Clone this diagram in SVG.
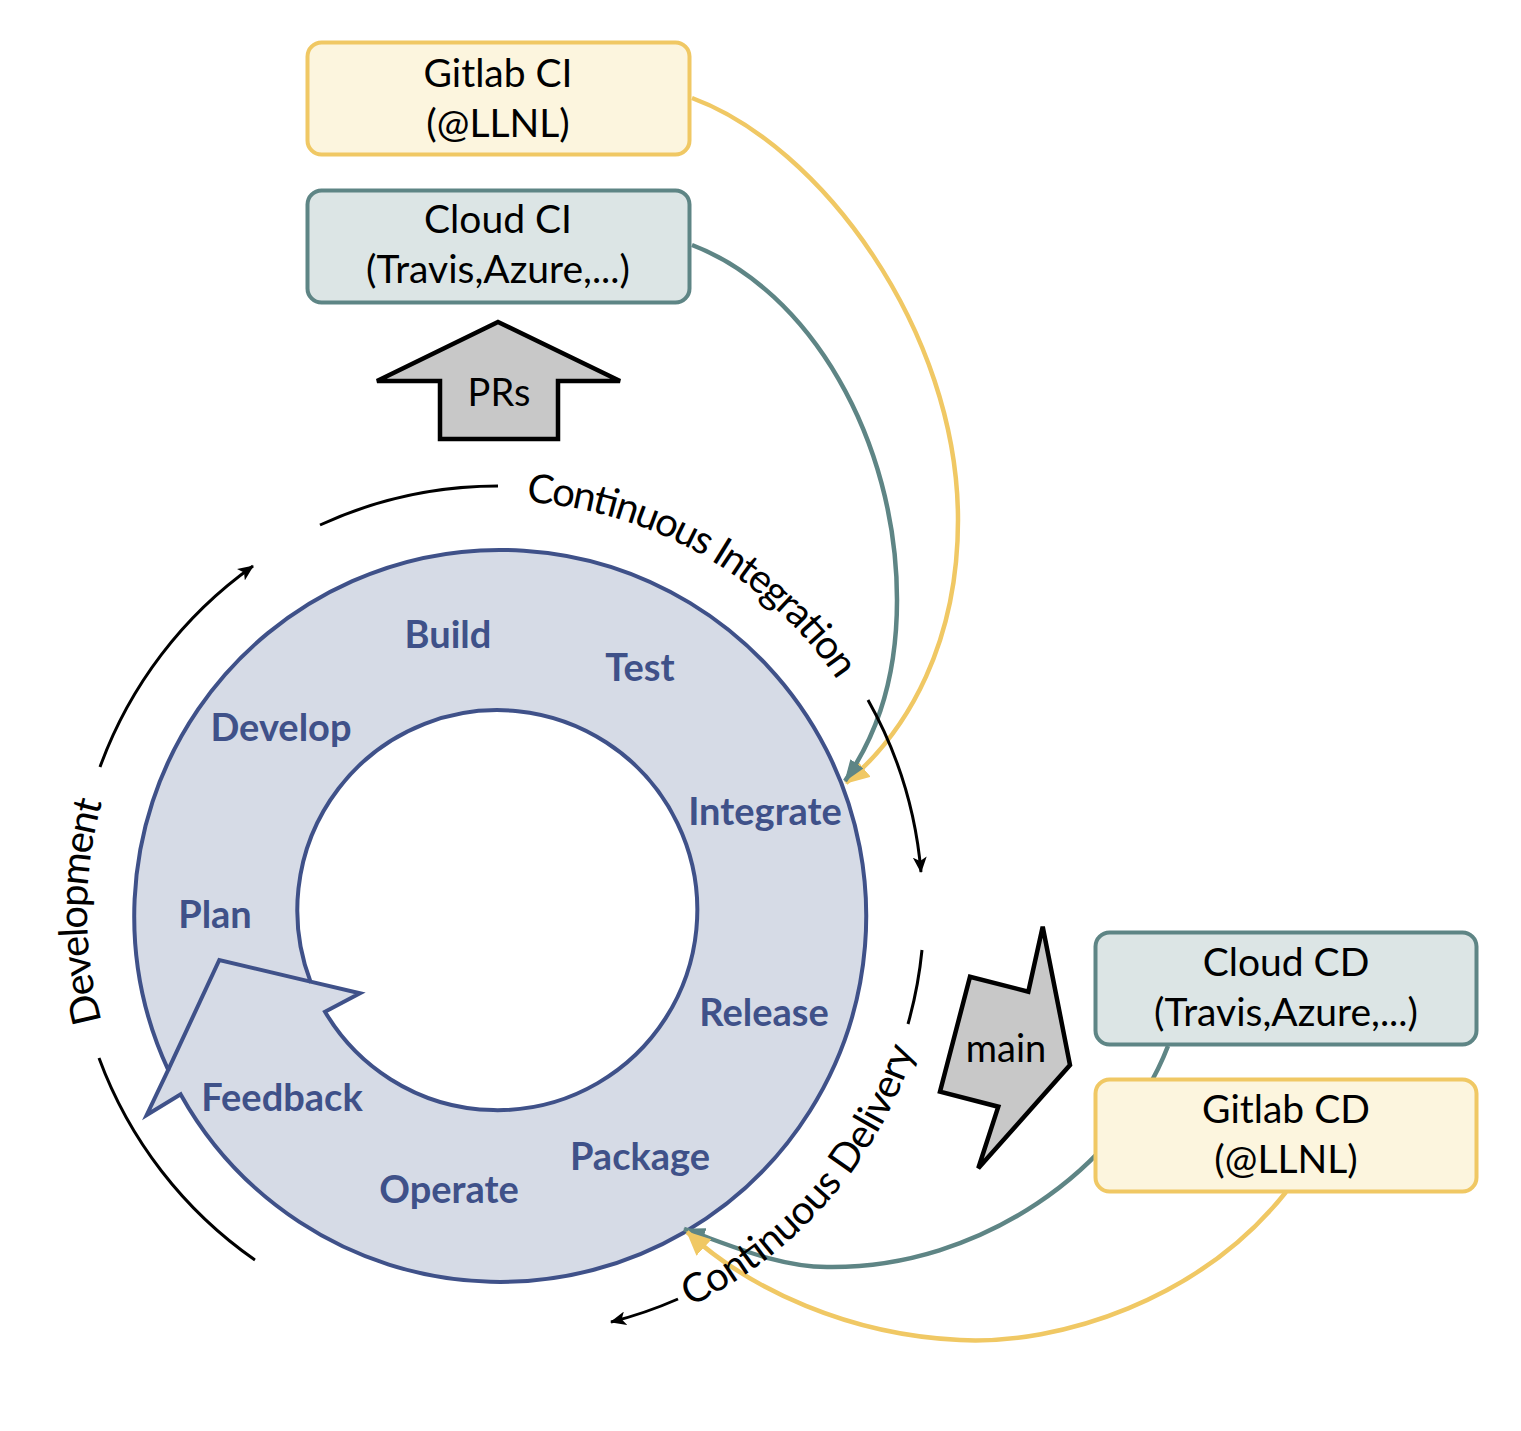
<svg xmlns="http://www.w3.org/2000/svg" width="1521" height="1431" viewBox="0 0 1521 1431">
<defs>
<style>
.ring-lbl{font-family:Lato,"Open Sans",sans-serif;font-weight:700;font-size:38px;fill:#3f5189;text-anchor:middle}
.box-lbl{font-family:Lato,"Open Sans",sans-serif;font-size:39px;fill:#000;text-anchor:middle}
.arw-lbl{font-family:Lato,"Open Sans",sans-serif;font-size:38px;fill:#000;text-anchor:middle}
.arc-lbl{font-family:Lato,"Open Sans",sans-serif;font-size:40px;fill:#000}
.box-y{fill:#fcf5de;stroke:#f0c864;stroke-width:4}
.box-t{fill:#dce5e5;stroke:#5e8585;stroke-width:4}
.garrow{fill:#c8c8c8;stroke:#000;stroke-width:4.5;stroke-linejoin:miter}
.flow{fill:none;stroke:#000;stroke-width:3}
.c-y{fill:none;stroke:#f0c864;stroke-width:4.5}
.c-t{fill:none;stroke:#5e8585;stroke-width:4.5}
.ring-fill{fill:#d6dbe6;fill-rule:evenodd;stroke:#3f5189;stroke-width:4;stroke-linejoin:miter}
.ring-line{fill:none;stroke:#3f5189;stroke-width:4}
</style>
<marker id="mk-black" markerUnits="userSpaceOnUse" viewBox="0 0 16 14" markerWidth="16" markerHeight="14" refX="15" refY="7" orient="auto"><path d="M0,0 L16,7 L0,14 L4,7 z" fill="#000"/></marker>
<marker id="mk-yellow" markerUnits="userSpaceOnUse" viewBox="0 0 24 22" markerWidth="24" markerHeight="22" refX="23" refY="11" orient="auto"><path d="M0,0 L24,11 L0,22 z" fill="#f0c864"/></marker>
<marker id="mk-teal" markerUnits="userSpaceOnUse" viewBox="0 0 22 16" markerWidth="22" markerHeight="16" refX="21" refY="8" orient="auto"><path d="M0,0 L22,8 L0,16 z" fill="#5e8585"/></marker>
<path id="ciPath" d="M426.6,507.2 A411,411 0 0 1 902.8,840.6"/>
<path id="devPath" d="M111.8,1052.6 A411,411 0 0 1 111.8,771.4"/>
<path id="cdPath" d="M633.7,1329.5 A439,439 0 0 0 932.7,973.1"/>
</defs>
<rect x="0" y="0" width="1521" height="1431" fill="#fff"/>

<g id="cycle">
<path class="ring-fill" d="M168.2,1069.9 L146.7,1115 L180.7,1094.4 A366,366 0 1 0 168.2,1069.9 Z M310.5,981.6 L360,993.3 L325,1011.7 A200,200 0 1 0 310.5,981.6 Z"/>
<path class="ring-line" d="M168.2,1069.9 L219.3,960 L310.5,981.6"/>
<text class="ring-lbl" x="448" y="648">Build</text>
<text class="ring-lbl" x="640" y="681">Test</text>
<text class="ring-lbl" x="281" y="741">Develop</text>
<text class="ring-lbl" x="765" y="825">Integrate</text>
<text class="ring-lbl" x="215" y="928">Plan</text>
<text class="ring-lbl" x="764" y="1026">Release</text>
<text class="ring-lbl" x="282" y="1111">Feedback</text>
<text class="ring-lbl" x="640" y="1170">Package</text>
<text class="ring-lbl" x="449" y="1203">Operate</text>
</g>

<g id="prs">
<polygon class="garrow" points="498,322 620,381 558,381 558,439 440,439 440,381 377,381"/>
<text class="arw-lbl" x="499" y="406">PRs</text>
</g>

<g id="main">
<polygon class="garrow" points="1042.7,926.7 1070,1065 978.3,1168.3 998.3,1106.7 940,1091.7 970,976.7 1028.3,991.7"/>
<text class="arw-lbl" x="1006" y="1062">main</text>
</g>

<g id="connectors">
<path class="c-y" d="M692,98 C820,145 958,330 958,520 C958,640 910,730 846,783" marker-end="url(#mk-yellow)"/>
<path class="c-t" d="M692,245 C810,290 897,440 897,600 C897,690 870,745 845,781" marker-end="url(#mk-teal)"/>
<path class="c-t" d="M1168,1046 C1120,1170 980,1268 830,1267 C780,1268 730,1245 684,1229" marker-end="url(#mk-teal)"/>
<path class="c-y" d="M1286,1192 C1200,1300 1060,1345 960,1340 C850,1335 750,1290 687,1232" marker-end="url(#mk-yellow)"/>
<path class="flow" d="M320,525 A426,426 0 0 1 498,486"/>
<path class="flow" d="M868,700 A425,425 0 0 1 921,872" marker-end="url(#mk-black)"/>
<path class="flow" d="M922,950 A425,425 0 0 1 908,1024"/>
<path class="flow" d="M678,1299 A425,425 0 0 1 611,1322" marker-end="url(#mk-black)"/>
<path class="flow" d="M255,1260 A425,425 0 0 1 99,1058"/>
<path class="flow" d="M100,767 A425,425 0 0 1 253,566" marker-end="url(#mk-black)"/>
<text class="arc-lbl"><textPath href="#ciPath" startOffset="100" textLength="371" lengthAdjust="spacing">Continuous Integration</textPath></text>
<text class="arc-lbl"><textPath href="#devPath" startOffset="33" textLength="222" lengthAdjust="spacing">Development</textPath></text>
<text class="arc-lbl"><textPath href="#cdPath" startOffset="61" textLength="350" lengthAdjust="spacing">Continuous Delivery</textPath></text>
</g>

<g id="gitlab-ci">
<rect class="box-y" x="307.5" y="42.5" width="382" height="112" rx="14"/>
<text class="box-lbl" x="498" y="87">Gitlab CI</text>
<text class="box-lbl" x="498" y="137">(@LLNL)</text>
</g>
<g id="cloud-ci">
<rect class="box-t" x="307.5" y="190.5" width="382" height="112" rx="14"/>
<text class="box-lbl" x="498" y="233">Cloud CI</text>
<text class="box-lbl" x="498" y="283">(Travis,Azure,...)</text>
</g>
<g id="cloud-cd">
<rect class="box-t" x="1095.5" y="932.5" width="381" height="112" rx="14"/>
<text class="box-lbl" x="1286" y="976">Cloud CD</text>
<text class="box-lbl" x="1286" y="1026">(Travis,Azure,...)</text>
</g>
<g id="gitlab-cd">
<rect class="box-y" x="1095.5" y="1079.5" width="381" height="112" rx="14"/>
<text class="box-lbl" x="1286" y="1123">Gitlab CD</text>
<text class="box-lbl" x="1286" y="1173">(@LLNL)</text>
</g>
</svg>
